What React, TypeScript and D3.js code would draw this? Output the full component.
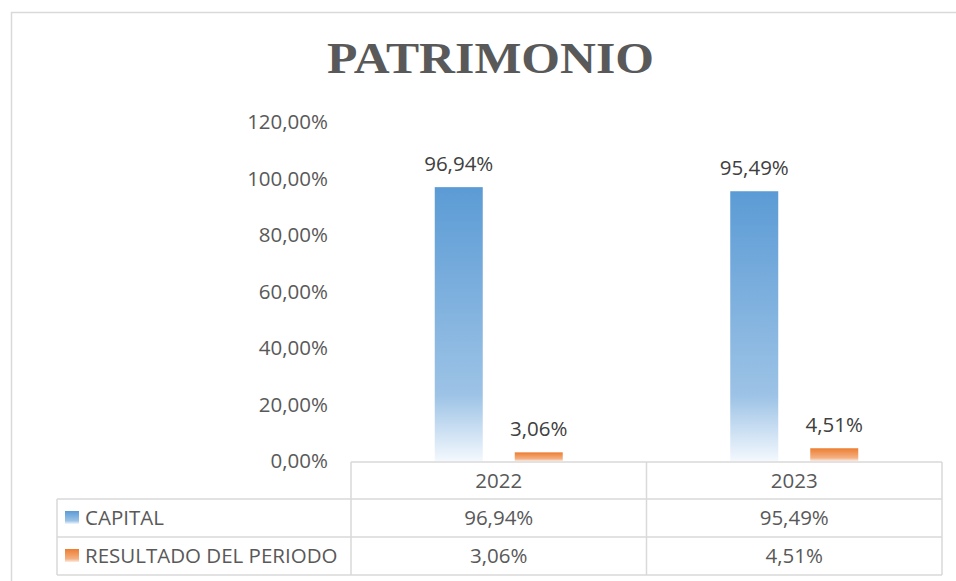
import React from "react";
import * as d3 from "d3";

const years = ["2022", "2023"];
const seriesNames = ["CAPITAL", "RESULTADO DEL PERIODO"];
const capital = [96.94, 95.49];
const resultado = [3.06, 4.51];
const yTicks = [0, 20, 40, 60, 80, 100, 120];

const W = 956;
const H = 581;
const FONT = "'Open Sans', 'Noto Sans', sans-serif";
const FS = 20.5;
const TXT = "#595959";
const GRID = "#D9D9D9";

const fmt = (v: number) => d3.format(".2f")(v).replace(".", ",") + "%";

export default function App() {
  const plotLeft = 351;
  const plotRight = 942;
  const y0 = 461;
  const yTop = 122;
  const y = d3.scaleLinear().domain([0, 120]).range([y0, yTop]);
  const x0 = d3.scaleBand<string>().domain(years).range([plotLeft, plotRight]).padding(0);
  const groupW = 128;
  const seriesVals = [capital, resultado];
  const gradIds = ["gBlue", "gOrange"];

  const rowTops = [462, 499, 537, 575];
  const colX = [57, plotLeft, x0("2023")!, plotRight];

  return (
    <svg width={W} height={H} style={{ position: "absolute", left: 0, top: 0 }} fontFamily={FONT}>
      <defs>
        <linearGradient id="gBlue" x1="0" y1="0" x2="0" y2="1">
          <stop offset="0" stopColor="#5B9BD5" />
          <stop offset="0.76" stopColor="#9DC3E6" />
          <stop offset="1" stopColor="#F3F8FD" />
        </linearGradient>
        <linearGradient id="gOrange" x1="0" y1="0" x2="0" y2="1">
          <stop offset="0" stopColor="#ED7D31" />
          <stop offset="0.76" stopColor="#F4B183" />
          <stop offset="1" stopColor="#FCEBDF" />
        </linearGradient>
      </defs>
      <rect x={0} y={0} width={W} height={H} fill="#fff" />
      <rect x={11.5} y={12.5} width={W + 10} height={H + 10} fill="none" stroke={GRID} strokeWidth={1.5} />

      <text
        x={490.5}
        y={73}
        textAnchor="middle"
        fontFamily="'Liberation Serif', 'Times New Roman', serif"
        fontWeight="bold"
        fontSize={45}
        fill={TXT}
        textLength={327}
        lengthAdjust="spacingAndGlyphs"
      >
        PATRIMONIO
      </text>

      {yTicks.map((t) => (
        <text key={t} x={328} y={y(t)} dy="0.35em" textAnchor="end" fontSize={FS} fill={TXT}>
          {fmt(t)}
        </text>
      ))}

      {years.map((yr, i) => {
        const cx = x0(yr)! + x0.bandwidth() / 2;
        const x1 = d3
          .scaleBand<string>()
          .domain(seriesNames)
          .range([cx - groupW / 2, cx + groupW / 2])
          .paddingInner(0.4)
          .paddingOuter(0);
        return (
          <g key={yr}>
            {seriesNames.map((s, si) => {
              const v = seriesVals[si][i];
              const bx = x1(s)!;
              const bw = x1.bandwidth();
              return (
                <g key={s}>
                  <rect x={bx} y={y(v)} width={bw} height={y0 - y(v)} fill={`url(#${gradIds[si]})`} />
                  <text x={bx + bw / 2} y={y(v) - 16} textAnchor="middle" fontSize={FS} fill="#404040">
                    {fmt(v)}
                  </text>
                </g>
              );
            })}
          </g>
        );
      })}

      <g stroke={GRID} strokeWidth={1.5} fill="none">
        <line x1={plotLeft} x2={plotRight} y1={rowTops[0]} y2={rowTops[0]} />
        {rowTops.slice(1).map((ry) => (
          <line key={ry} x1={colX[0]} x2={plotRight} y1={ry} y2={ry} />
        ))}
        <line x1={colX[0]} x2={colX[0]} y1={rowTops[1]} y2={rowTops[3]} />
        {colX.slice(1).map((cx) => (
          <line key={cx} x1={cx} x2={cx} y1={rowTops[0]} y2={rowTops[3]} />
        ))}
      </g>
      {years.map((yr) => {
        const cx = x0(yr)! + x0.bandwidth() / 2;
        return (
          <text key={yr} x={cx} y={(rowTops[0] + rowTops[1]) / 2} dy="0.35em" textAnchor="middle" fontSize={FS} fill={TXT}>
            {yr}
          </text>
        );
      })}
      {seriesNames.map((s, si) => {
        const cy = (rowTops[si + 1] + rowTops[si + 2]) / 2;
        return (
          <g key={s}>
            <rect x={65} y={cy - 7} width={14} height={13} fill={`url(#${gradIds[si]})`} />
            <text x={85} y={cy} dy="0.35em" fontSize={FS} fill={TXT}>
              {s}
            </text>
            {years.map((yr, i) => {
              const cx = x0(yr)! + x0.bandwidth() / 2;
              return (
                <text key={yr} x={cx} y={cy} dy="0.35em" textAnchor="middle" fontSize={FS} fill={TXT}>
                  {fmt(seriesVals[si][i])}
                </text>
              );
            })}
          </g>
        );
      })}
    </svg>
  );
}
